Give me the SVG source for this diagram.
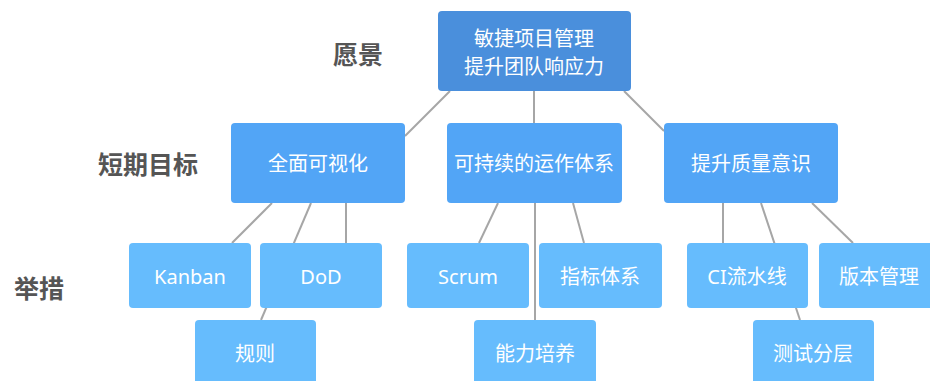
<svg xmlns="http://www.w3.org/2000/svg" width="930" height="381" viewBox="0 0 930 381">
<style>
.root{fill:#4a8fdc}
.l2{fill:#52a5f6}
.l3{fill:#66bcfd}
.t{font-family:"Noto Sans","Noto Sans CJK SC",sans-serif;font-size:20px;fill:#fff;text-anchor:middle;dominant-baseline:central}
.lab{font-family:"Noto Sans CJK SC","Noto Sans",sans-serif;font-size:25px;font-weight:bold;fill:#555;text-anchor:middle;dominant-baseline:central}
.c line{stroke:#a6a6a6;stroke-width:2}
</style>
<rect width="930" height="381" fill="#fff"/>
<g id="connectors" class="c">
<line x1="450" y1="91" x2="405" y2="136"/>
<line x1="534" y1="91" x2="534" y2="123"/>
<line x1="624" y1="91" x2="664" y2="131"/>
<line x1="272" y1="203" x2="232" y2="243"/>
<line x1="311" y1="203" x2="261" y2="320"/>
<line x1="346" y1="203" x2="346" y2="243"/>
<line x1="498" y1="203" x2="479" y2="243"/>
<line x1="535" y1="203" x2="535" y2="320"/>
<line x1="573" y1="203" x2="584" y2="243"/>
<line x1="723" y1="203" x2="723" y2="243"/>
<line x1="761" y1="203" x2="800" y2="320"/>
<line x1="812" y1="203" x2="853" y2="243"/>
</g>
<g id="label-vision"><text class="lab" x="358" y="53">愿景</text></g>
<g id="label-goals"><text class="lab" x="148" y="163">短期目标</text></g>
<g id="label-actions"><text class="lab" x="39" y="287">举措</text></g>
<g id="root"><rect class="root" x="438" y="11" width="193" height="80" rx="4"/><text class="t" x="534" y="38">敏捷项目管理</text><text class="t" x="534" y="66">提升团队响应力</text></g>
<g id="visual"><rect class="l2" x="231" y="123" width="174" height="80" rx="4"/><text class="t" x="318" y="163">全面可视化</text></g>
<g id="sustain"><rect class="l2" x="447" y="123" width="175" height="80" rx="4"/><text class="t" x="534" y="163">可持续的运作体系</text></g>
<g id="quality"><rect class="l2" x="664" y="123" width="174" height="80" rx="4"/><text class="t" x="751" y="163">提升质量意识</text></g>
<g id="kanban"><rect class="l3" x="129" y="243" width="122" height="65" rx="4"/><text class="t" x="190" y="276">Kanban</text></g>
<g id="dod"><rect class="l3" x="260" y="243" width="122" height="65" rx="4"/><text class="t" x="321" y="276">DoD</text></g>
<g id="rules"><rect class="l3" x="195" y="320" width="121" height="65" rx="4"/><text class="t" x="255" y="353">规则</text></g>
<g id="scrum"><rect class="l3" x="407" y="243" width="122" height="65" rx="4"/><text class="t" x="468" y="276">Scrum</text></g>
<g id="metrics"><rect class="l3" x="539" y="243" width="123" height="65" rx="4"/><text class="t" x="600" y="276">指标体系</text></g>
<g id="capability"><rect class="l3" x="474" y="320" width="122" height="65" rx="4"/><text class="t" x="535" y="353">能力培养</text></g>
<g id="ci"><rect class="l3" x="687" y="243" width="121" height="65" rx="4"/><text class="t" x="747" y="276">CI流水线</text></g>
<g id="version"><rect class="l3" x="819" y="243" width="122" height="65" rx="4"/><text class="t" x="879" y="276">版本管理</text></g>
<g id="testing"><rect class="l3" x="753" y="320" width="121" height="65" rx="4"/><text class="t" x="813" y="353">测试分层</text></g>
</svg>
